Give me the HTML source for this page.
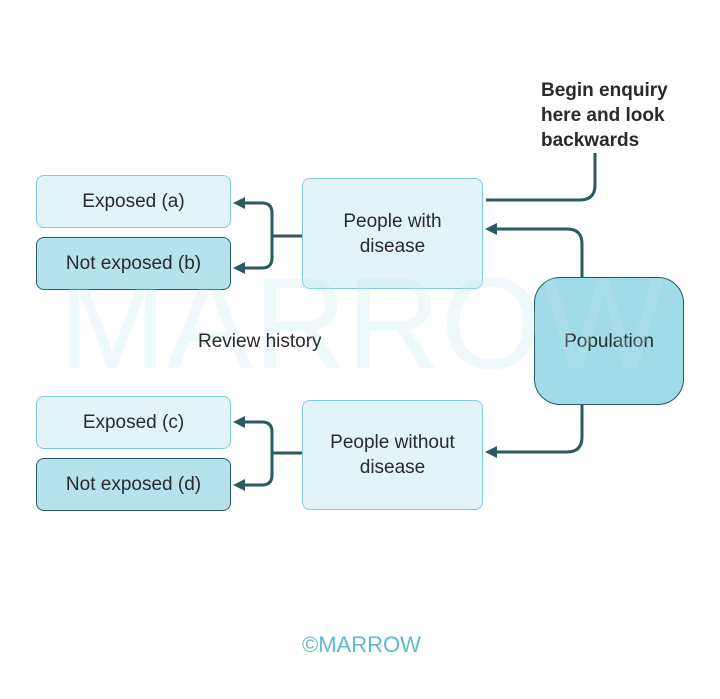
<!DOCTYPE html>
<html><head><style>
body{margin:0;background:#fff;width:720px;height:699px;overflow:hidden;position:relative;font-family:"Liberation Sans",Arial,sans-serif}
.b{position:absolute;box-sizing:border-box;border:1.5px solid #7ccbd8;border-radius:8px;background:#e2f4f8;display:flex;align-items:center;justify-content:center;text-align:center;font-size:19px;color:#2a2a2a;line-height:25px}
.d{background:#b5e2ec;border-color:#2c5a62}
</style></head><body>
<div class="b" style="left:36px;top:175px;width:195px;height:53px">Exposed (a)</div>
<div class="b d" style="left:36px;top:237px;width:195px;height:53px">Not exposed (b)</div>
<div class="b" style="left:302px;top:178px;width:181px;height:111px">People with<br>disease</div>
<div class="b" style="left:36px;top:396px;width:195px;height:53px">Exposed (c)</div>
<div class="b d" style="left:36px;top:458px;width:195px;height:53px">Not exposed (d)</div>
<div class="b" style="left:302px;top:400px;width:181px;height:110px">People without<br>disease</div>
<div class="b" style="left:534px;top:277px;width:150px;height:128px;border-radius:26px;background:#9fdbe8;border-color:#2c5a62">Population</div>
<div style="position:absolute;left:58px;top:258px;white-space:nowrap;font-size:130px;color:rgba(190,232,240,0.25);line-height:130px">MARROW</div>
<div style="position:absolute;left:198px;top:331px;font-size:19px;color:#2a2a2a">Review history</div>
<div style="position:absolute;left:541px;top:78px;font-size:19px;font-weight:bold;color:#2a2a2a;line-height:25px">Begin enquiry<br>here and look<br>backwards</div>
<svg width="720" height="699" style="position:absolute;left:0;top:0" fill="none" stroke="#2c5a62" stroke-width="3">
<path d="M595 153 V185 Q595 200 580 200 H486"/>
<path d="M582 277 V244 Q582 229 567 229 H490"/>
<path d="M582 405 V437 Q582 452 567 452 H490"/>
<path d="M302 236 H272 M238 203 H262 Q272 203 272 213 V258 Q272 268 262 268 H238"/>
<path d="M302 453 H272 M238 422 H262 Q272 422 272 432 V475 Q272 485 262 485 H238"/>
<g fill="#2c5a62" stroke="none">
<path d="M485 229 l12 -6 v12z"/><path d="M485 452 l12 -6 v12z"/>
<path d="M233 203 l12 -6 v12z"/><path d="M233 268 l12 -6 v12z"/>
<path d="M233 422 l12 -6 v12z"/><path d="M233 485 l12 -6 v12z"/>
</g></svg>
<div style="position:absolute;left:302px;top:632px;font-size:22px;color:#5cbccc">©MARROW</div>
</body></html>
